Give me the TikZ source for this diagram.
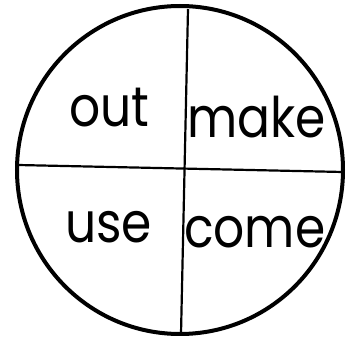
\documentclass[tikz,border=0pt]{standalone}
\usepackage{fontspec}
\setmainfont{Poppins}[FakeStretch=0.87]
\usetikzlibrary{positioning}

\begin{document}
\begin{tikzpicture}[
  x=1pt, y=-1pt,
  rim/.style={draw=black, line width=4pt},
  cut/.style={draw=black, line width=2.2pt},
  word/.style={inner sep=0pt, anchor=base west, font=\fontsize{56}{56}\selectfont}
]
\useasboundingbox (0,0) rectangle (357,342);
\draw[rim] (180,170) ellipse [x radius=163, y radius=164];

% ends of the two cross lines
\coordinate (top) at (188,9);
\coordinate (bottom) at (181,334);
\coordinate (left) at (18,165);
\coordinate (right) at (343,172);
\draw[cut] (top) -- (bottom);
\draw[cut] (left) -- (right);

\node[word] (out) at (69,127) {out};
\node[word] (make) at (187,138) {make};
\node[word] (use) at (65,243) {use};
\node[word] (come) at (184,248) {come};
\end{tikzpicture}
\end{document}
